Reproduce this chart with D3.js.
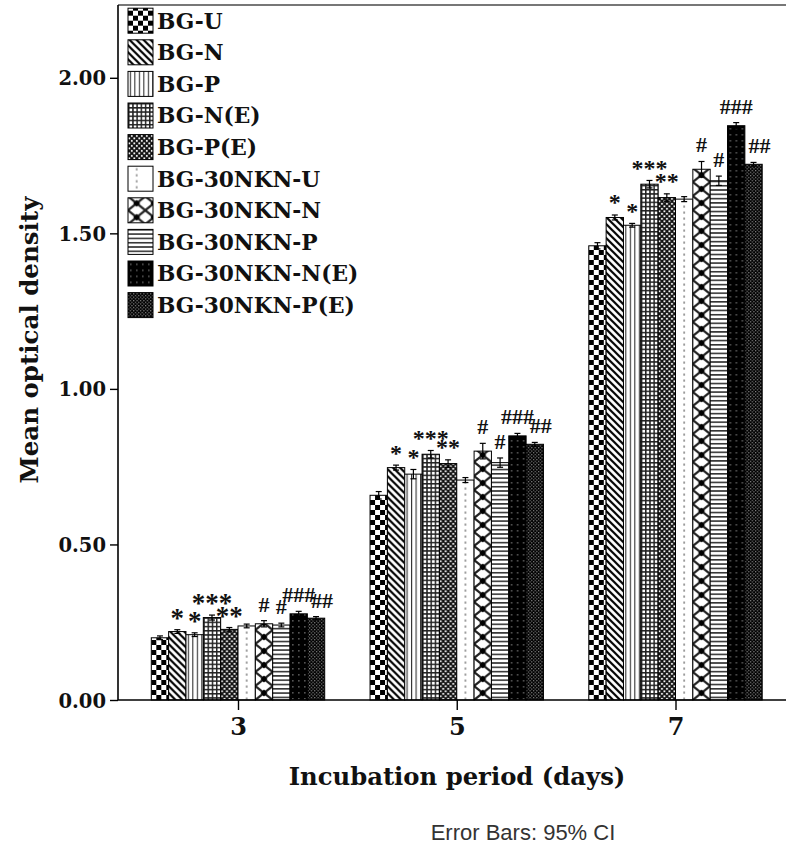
<!DOCTYPE html>
<html>
<head>
<meta charset="utf-8">
<script src="https://cdn.jsdelivr.net/npm/d3@7/dist/d3.min.js"></script>
<style>
  html, body { margin: 0; padding: 0; background: #fff; }
  svg { display: block; }
</style>
</head>
<body>
<svg id="chart" width="786" height="847"></svg>
<script>
// Incubation days on the x axis
const days = ["3", "5", "7"];

// Sample groups, one bar each per day
const groups = ["BG-U", "BG-N", "BG-P", "BG-N(E)", "BG-P(E)",
  "BG-30NKN-U", "BG-30NKN-N", "BG-30NKN-P", "BG-30NKN-N(E)", "BG-30NKN-P(E)"];

// Mean optical density per group
const meanDay3 = [0.200, 0.220, 0.210, 0.265, 0.227, 0.238, 0.245, 0.241, 0.277, 0.263];
const meanDay5 = [0.658, 0.747, 0.726, 0.790, 0.760, 0.707, 0.800, 0.763, 0.849, 0.822];
const meanDay7 = [1.460, 1.551, 1.526, 1.658, 1.615, 1.610, 1.706, 1.669, 1.846, 1.722];

// 95% confidence half-widths
const ciDay3 = [0.006, 0.006, 0.006, 0.008, 0.006, 0.006, 0.010, 0.006, 0.008, 0.005];
const ciDay5 = [0.012, 0.008, 0.015, 0.012, 0.012, 0.008, 0.025, 0.015, 0.008, 0.006];
const ciDay7 = [0.010, 0.008, 0.006, 0.012, 0.012, 0.008, 0.025, 0.015, 0.010, 0.006];

// Significance marks above each bar
const sigMarks = ["", "*", "*", "***", "**", "", "#", "#", "###", "##"];

// Y axis ticks
const yTicks = [0, 0.5, 1.0, 1.5, 2.0];

const means = [meanDay3, meanDay5, meanDay7];
const cis = [ciDay3, ciDay5, ciDay7];

const rows = [];
days.forEach((d, di) => groups.forEach((g, gi) => {
  rows.push({ day: d, dayIndex: di, group: g, gi, mean: means[di][gi], ci: cis[di][gi], mark: sigMarks[gi] });
}));

const svg = d3.select("#chart");
const serif = "'DejaVu Serif', serif";
const times = "'Liberation Serif', 'Times New Roman', serif";

const plotLeft = 118, plotBottom = 700, plotTop = 5;
const x = d3.scalePoint().domain(days).range([238, 675.5]);
const inner = d3.scaleBand().domain(groups).range([-86.7, 86.7]).padding(0);
const y = d3.scaleLinear().domain([0, 2.234]).range([plotBottom, plotTop]);

// ---------- fill patterns ----------
const defs = svg.append("defs");
function pat(id, w, h, draw) {
  const p = defs.append("pattern").attr("id", id)
    .attr("patternUnits", "userSpaceOnUse").attr("width", w).attr("height", h);
  draw(p);
}
// checkerboard
pat("p0", 10, 10, p => {
  p.append("rect").attr("width", 10).attr("height", 10).attr("fill", "#fff");
  p.append("rect").attr("width", 5).attr("height", 5).attr("fill", "#000");
  p.append("rect").attr("x", 5).attr("y", 5).attr("width", 5).attr("height", 5).attr("fill", "#000");
});
// backward diagonal hatching
pat("p1", 7, 7, p => {
  p.append("rect").attr("width", 7).attr("height", 7).attr("fill", "#fff");
  p.append("path").attr("d", "M0,0L7,7M-2,5L2,9M5,-2L9,2").attr("stroke", "#000").attr("stroke-width", 2.2);
});
// sparse vertical lines
pat("p2", 4.5, 10, p => {
  p.append("rect").attr("width", 4.5).attr("height", 10).attr("fill", "#fff");
  p.append("rect").attr("x", 1.8).attr("width", 1.1).attr("height", 10).attr("fill", "#333");
});
// grid
pat("p3", 4.2, 4.2, p => {
  p.append("rect").attr("width", 4.2).attr("height", 4.2).attr("fill", "#fff");
  p.append("rect").attr("x", 0).attr("width", 1.5).attr("height", 4.2).attr("fill", "#222");
  p.append("rect").attr("y", 0).attr("width", 4.2).attr("height", 1.5).attr("fill", "#222");
});
// fine checker
pat("p4", 5, 5, p => {
  p.append("rect").attr("width", 5).attr("height", 5).attr("fill", "#111");
  p.append("rect").attr("x", 0.4).attr("y", 0.4).attr("width", 1.8).attr("height", 1.8).attr("fill", "#fff");
  p.append("rect").attr("x", 2.9).attr("y", 2.9).attr("width", 1.8).attr("height", 1.8).attr("fill", "#fff");
});
// light dotted column
pat("p5", 17.3, 6, p => {
  p.append("rect").attr("width", 17.3).attr("height", 6).attr("fill", "#fff");
  p.append("rect").attr("x", 7.8).attr("y", 1.5).attr("width", 1.8).attr("height", 2.2).attr("fill", "#999");
});
// lattice with diamonds
pat("p6", 17.3, 14, p => {
  p.append("rect").attr("width", 17.3).attr("height", 14).attr("fill", "#fff");
  p.append("path").attr("d", "M0,0L17.3,14M17.3,0L0,14").attr("stroke", "#222").attr("stroke-width", 2.2);
  p.append("path").attr("d", "M8.65,3.5L12.2,7L8.65,10.5L5.1,7Z").attr("fill", "#000");
});
// horizontal lines
pat("p7", 10, 4.3, p => {
  p.append("rect").attr("width", 10).attr("height", 4.3).attr("fill", "#fff");
  p.append("rect").attr("y", 0).attr("width", 10).attr("height", 1.6).attr("fill", "#333");
});
// black with faint dots
pat("p8", 6, 6, p => {
  p.append("rect").attr("width", 6).attr("height", 6).attr("fill", "#000");
  p.append("rect").attr("x", 2).attr("y", 2).attr("width", 1.6).attr("height", 1.6).attr("fill", "#555");
});
// dark fine checker
pat("p9", 3.4, 3.4, p => {
  p.append("rect").attr("width", 3.4).attr("height", 3.4).attr("fill", "#000");
  p.append("rect").attr("x", 0).attr("y", 0).attr("width", 1.2).attr("height", 1.2).attr("fill", "#888");
  p.append("rect").attr("x", 1.7).attr("y", 1.7).attr("width", 1.2).attr("height", 1.2).attr("fill", "#888");
});
const fillOf = gi => `url(#p${gi})`;

// ---------- frame ----------
svg.append("line").attr("x1", plotLeft).attr("x2", 800).attr("y1", plotTop).attr("y2", plotTop)
  .attr("stroke", "#777").attr("stroke-width", 2.2);

// ---------- bars ----------
const barG = svg.append("g");
const bars = barG.selectAll("g.bar").data(rows).join("g").attr("class", "bar")
  .attr("transform", d => `translate(${x(d.day) + inner(d.group)},0)`);
bars.append("rect")
  .attr("x", 0).attr("width", inner.bandwidth())
  .attr("y", d => y(d.mean)).attr("height", d => y(0) - y(d.mean))
  .attr("fill", d => fillOf(d.gi)).attr("stroke", "#000").attr("stroke-width", 1);

// error bars
const cx = d => x(d.day) + inner(d.group) + inner.bandwidth() / 2;
const eb = svg.append("g").attr("stroke", "#000").attr("stroke-width", 1.2);
eb.selectAll("line.v").data(rows).join("line").attr("class", "v")
  .attr("x1", cx).attr("x2", cx)
  .attr("y1", d => y(d.mean - d.ci)).attr("y2", d => y(d.mean + d.ci));
eb.selectAll("line.t").data(rows).join("line").attr("class", "t")
  .attr("x1", d => cx(d) - 3).attr("x2", d => cx(d) + 3)
  .attr("y1", d => y(d.mean + d.ci)).attr("y2", d => y(d.mean + d.ci));
eb.selectAll("line.b").data(rows).join("line").attr("class", "b")
  .attr("x1", d => cx(d) - 3).attr("x2", d => cx(d) + 3)
  .attr("y1", d => y(d.mean - d.ci)).attr("y2", d => y(d.mean - d.ci));

// significance marks
svg.append("g").selectAll("text").data(rows.filter(d => d.mark)).join("text")
  .attr("x", d => cx(d) + (d.mark === "##" ? 6 : 0))
  .attr("y", d => {
    const c = y(d.mean + d.ci) - 16;
    return d.mark[0] === "*" ? c + (d.dayIndex === 0 ? 13 : 11.5) : c + 7;
  })
  .attr("text-anchor", "middle")
  .attr("font-family", times).attr("font-weight", "bold")
  .attr("font-size", d => d.mark[0] === "*" ? (d.dayIndex === 0 ? 27 : 24) : 22)
  .attr("fill", "#111")
  .text(d => d.mark);

// ---------- axes ----------
const yAxis = svg.append("g").attr("transform", `translate(${plotLeft},0)`)
  .call(d3.axisLeft(y).tickValues(yTicks).tickFormat(d3.format(".2f")).tickSize(8).tickPadding(4));
yAxis.select(".domain").attr("d", `M0,${plotTop}V${plotBottom}`).attr("stroke-width", 1.6);
yAxis.selectAll(".tick line").attr("stroke-width", 1.4);
yAxis.selectAll(".tick text").attr("font-family", serif).attr("font-weight", "bold")
  .attr("font-size", 19.5).attr("fill", "#111").attr("dy", "0.36em");

const xAxis = svg.append("g").attr("transform", `translate(0,${plotBottom})`)
  .call(d3.axisBottom(x).tickSize(10).tickPadding(8));
xAxis.select(".domain").attr("d", `M${plotLeft},0H800`).attr("stroke-width", 1.6);
xAxis.selectAll(".tick line").attr("stroke-width", 1.4);
xAxis.selectAll(".tick text").attr("font-family", serif).attr("font-weight", "bold")
  .attr("font-size", 24).attr("fill", "#111");

// axis titles
svg.append("text").attr("x", 457).attr("y", 785).attr("text-anchor", "middle")
  .attr("font-family", serif).attr("font-weight", "bold").attr("font-size", 24.3).attr("fill", "#111")
  .text("Incubation period (days)");
svg.append("text").attr("transform", "translate(38,340) rotate(-90)").attr("text-anchor", "middle")
  .attr("font-family", serif).attr("font-weight", "bold").attr("font-size", 24.5).attr("fill", "#111")
  .text("Mean optical density");
svg.append("text").attr("x", 523).attr("y", 840).attr("text-anchor", "middle")
  .attr("font-family", "'Liberation Sans', Arial, sans-serif").attr("font-size", 22).attr("fill", "#333")
  .text("Error Bars: 95% CI");

// ---------- legend ----------
const leg = svg.append("g").selectAll("g").data(groups).join("g")
  .attr("transform", (d, i) => `translate(128,${20.7 + i * 31.6})`);
leg.append("rect").attr("x", 0).attr("y", -12.5).attr("width", 25).attr("height", 25)
  .attr("fill", (d, i) => fillOf(i)).attr("stroke", "#000").attr("stroke-width", 1);
leg.append("text").attr("x", 29).attr("y", 7.8)
  .attr("font-family", serif).attr("font-weight", "bold").attr("font-size", 21.7).attr("fill", "#111")
  .text(d => d);
</script>
</body>
</html>
